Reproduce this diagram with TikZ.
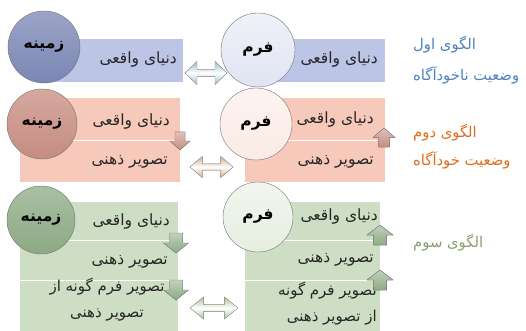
\documentclass[tikz,border=0pt]{standalone}
\usepackage{fontspec}
\newfontfamily\farsi[Script=Arabic]{DejaVu Sans}
\TeXXeTstate=1
\newcommand\rtl[1]{\beginR #1\endR}

\definecolor{blueBox}{RGB}{188,197,230}
\definecolor{blueDark}{RGB}{122,134,180}
\definecolor{blueLight}{RGB}{224,228,242}
\definecolor{roseBox}{RGB}{246,201,186}
\definecolor{roseDark}{RGB}{198,140,128}
\definecolor{roseLight}{RGB}{251,234,228}
\definecolor{greenBox}{RGB}{206,222,197}
\definecolor{greenDark}{RGB}{140,170,132}
\definecolor{greenLight}{RGB}{229,238,223}
\definecolor{blueLabel}{RGB}{79,129,189}
\definecolor{orangeLabel}{RGB}{222,110,30}
\definecolor{greenLabel}{RGB}{140,158,108}
\definecolor{blueSwap}{RGB}{150,185,200}
\definecolor{roseSwap}{RGB}{214,172,128}
\definecolor{greenSwap}{RGB}{170,196,152}

\tikzset{%
  base/.style = {circle, draw=black!55, thin, inner sep=0pt,
    font=\farsi\bfseries\fontsize{15.5}{18}\selectfont},
  txt/.style = {anchor=east, inner sep=0pt, text=black!85,
    font=\farsi\fontsize{15.5}{18}\selectfont},
  pair/.style = {inner sep=0pt, text=black!85,
    font=\farsi\fontsize{15}{26}\selectfont},
  label/.style = {anchor=west, inner sep=0pt, font=\farsi\fontsize{14.8}{18}\selectfont},
  split/.style = {draw=white, line width=1pt},
  swapfill/.style = {draw=black!40, top color=#1, bottom color=#1, middle color=white},
  stepfill/.style = {draw=black!50, top color=#1!55, bottom color=#1},
  pics/swap/.style = {code={
    \filldraw[swapfill=#1] (-1,0) -- (-0.43,1) -- (-0.43,0.3) -- (0.43,0.3) -- (0.43,1)
      -- (1,0) -- (0.43,-1) -- (0.43,-0.3) -- (-0.43,-0.3) -- (-0.43,-1) -- cycle;
  }},
  pics/step/.style = {code={
    \filldraw[stepfill=#1] (-0.5,-1) -- (0.5,-1) -- (0.5,0) -- (1,0) -- (0,1)
      -- (-1,0) -- (-0.5,0) -- cycle;
  }}
}

\begin{document}
\begin{tikzpicture}[x=1pt,y=-1pt]
\useasboundingbox (0,0) rectangle (526,331);

% first pattern
\fill[blueBox] (44,39) rectangle (183,82);
\fill[blueBox] (258,39) rectangle (385,82);
\node[base, minimum size=72pt, top color=blueDark!75, bottom color=blueDark] (ground1) at (44,47) {\rtl{زمینه}};
\node[base, minimum size=74pt, top color=blueLight!50, bottom color=blueLight] (form1) at (258,50) {\rtl{فرم}};
\node[txt] (real1l) at (177,60) {\rtl{دنیای واقعی}};
\node[txt] (real1r) at (378,60) {\rtl{دنیای واقعی}};
\pic[xscale=21, yscale=11.5] (link1) at (206,73) {swap=blueSwap};
\node[label, text=blueLabel] (name1) at (413,45) {\rtl{الگوی اول}};
\node[label, text=blueLabel] (state1) at (413,75) {\rtl{وضعیت ناخودآگاه}};

% second pattern
\fill[roseBox] (20,98) rectangle (180,182);
\fill[roseBox] (245,98) rectangle (385,182);
\draw[split] (20,140) -- (180,140);
\draw[split] (245,140) -- (385,140);
\node[base, minimum size=70pt, top color=roseDark!75, bottom color=roseDark] (ground2) at (42,124) {\rtl{زمینه}};
\node[base, minimum size=72pt, top color=roseLight!50, bottom color=roseLight] (form2) at (256,124) {\rtl{فرم}};
\node[txt] (real2l) at (170,122) {\rtl{دنیای واقعی}};
\node[txt] (mind2l) at (168,162) {\rtl{تصویر ذهنی}};
\node[txt] (real2r) at (374,120) {\rtl{دنیای واقعی}};
\node[txt] (mind2r) at (374,162) {\rtl{تصویر ذهنی}};
\pic[xscale=10, yscale=9] (down2) at (180,141) {step=roseDark};
\pic[xscale=11, yscale=-9.5] (up2) at (384,137.5) {step=roseDark};
\pic[xscale=21.5, yscale=10.5] (link2) at (211.5,167) {swap=roseSwap};
\node[label, text=orangeLabel] (name2) at (413,133) {\rtl{الگوی دوم}};
\node[label, text=orangeLabel] (state2) at (413,160) {\rtl{وضعیت خودآگاه}};

% third pattern
\fill[greenBox] (20,202) rectangle (178,331);
\fill[greenBox] (245,202) rectangle (380,331);
\foreach \y in {240,280} {
  \draw[split] (20,\y) -- (178,\y);
  \draw[split] (245,\y) -- (380,\y);
}
\node[base, minimum size=68pt, top color=greenDark!75, bottom color=greenDark] (ground3) at (41,220) {\rtl{زمینه}};
\node[base, minimum size=70pt, top color=greenLight!50, bottom color=greenLight] (form3) at (258,217) {\rtl{فرم}};
\node[txt] (real3l) at (170,222) {\rtl{دنیای واقعی}};
\node[txt] (mind3l) at (168,262) {\rtl{تصویر ذهنی}};
\node[pair, align=center] (shape3l) at (107,300) {\rtl{تصویر فرم گونه از}\\\rtl{تصویر ذهنی}};
\node[txt] (real3r) at (378,217) {\rtl{دنیای واقعی}};
\node[txt] (mind3r) at (374,260) {\rtl{تصویر ذهنی}};
\node[pair, align=right, anchor=east] (shape3r) at (377,304) {\rtl{تصویر فرم گونه}\\\rtl{از تصویر ذهنی}};
\foreach \y/\n in {243/a,290/b}
  \pic[xscale=12.5, yscale=10] (down3\n) at (176,\y) {step=greenDark};
\foreach \y/\n in {235/a,280/b}
  \pic[xscale=13, yscale=-10] (up3\n) at (380,\y) {step=greenDark};
\pic[xscale=24, yscale=11] (link3) at (214,308) {swap=greenSwap};
\node[label, text=greenLabel] (name3) at (413,243) {\rtl{الگوی سوم}};
\end{tikzpicture}
\end{document}
